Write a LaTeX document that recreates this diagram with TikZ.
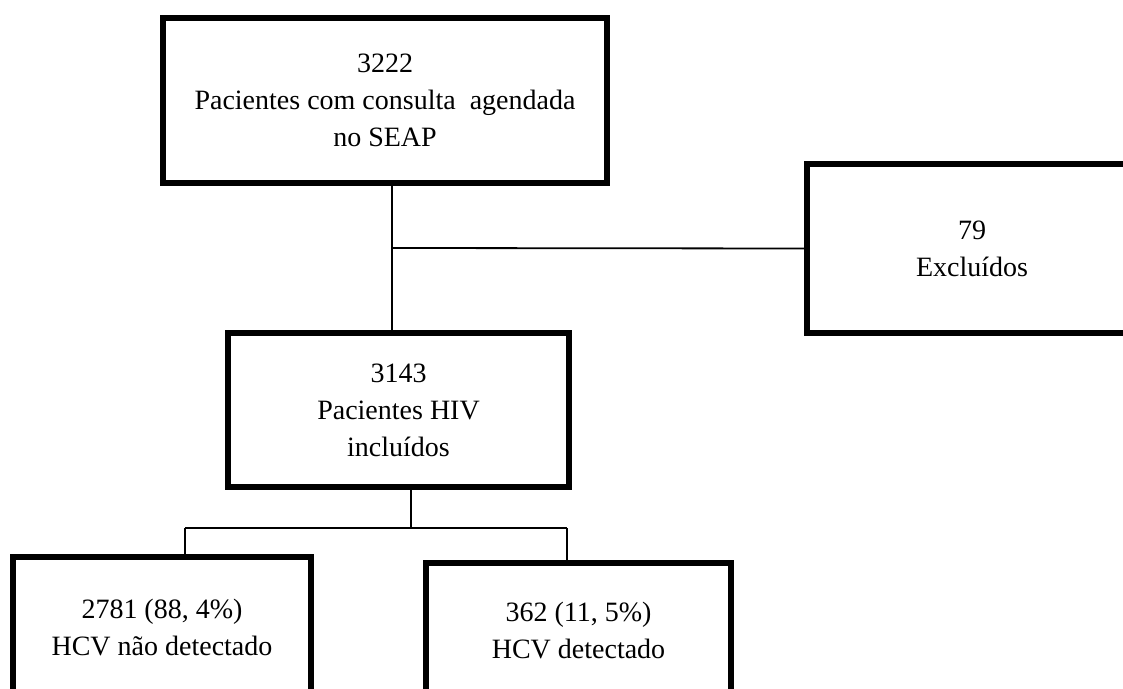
\documentclass[tikz,border=0pt]{standalone}
\usepackage{fontspec}
\setmainfont{Liberation Serif}
\begin{document}
\begin{tikzpicture}[x=0.5pt,y=-0.5pt,line width=0.9pt,
    box/.style={draw,line width=3pt,align=center,inner sep=0pt,
      font=\fontsize{14}{18.5}\selectfont}]
        \clip (0,0) rectangle (1123,689);
        \node[box,minimum width=222pt,minimum height=82.5pt] (top) at (385,100.5)
          {3222\\Pacientes com consulta~ agendada\\no SEAP};
        \node[box,minimum width=165pt,minimum height=84.5pt] (excl) at (972,248.5)
          {79\\Excluídos};
        \node[box,minimum width=170.5pt,minimum height=77pt] (incl) at (398.5,410)
          {3143\\Pacientes HIV\\incluídos};
        \node[box,minimum width=149pt,minimum height=70pt] (neg) at (162,627)
          {2781 (88, 4\%)\\HCV não detectado};
        \node[box,minimum width=152.5pt,minimum height=67pt] (pos) at (578.5,630)
          {362 (11, 5\%)\\HCV detectado};
        \coordinate (j1) at (392,248);
        \coordinate (j2) at (411,528);
        \coordinate (l1) at (185,528);
        \coordinate (r1) at (567,528);
        \draw (top.south -| j1) -- (incl.north -| j1);
        \draw (j1) -- (excl.west);
        \draw (incl.south -| j2) -- (j2);
        \draw (l1) -- (r1);
        \draw (l1) -- (neg.north -| l1);
        \draw (r1) -- (pos.north -| r1);
      \end{tikzpicture}
\end{document}
